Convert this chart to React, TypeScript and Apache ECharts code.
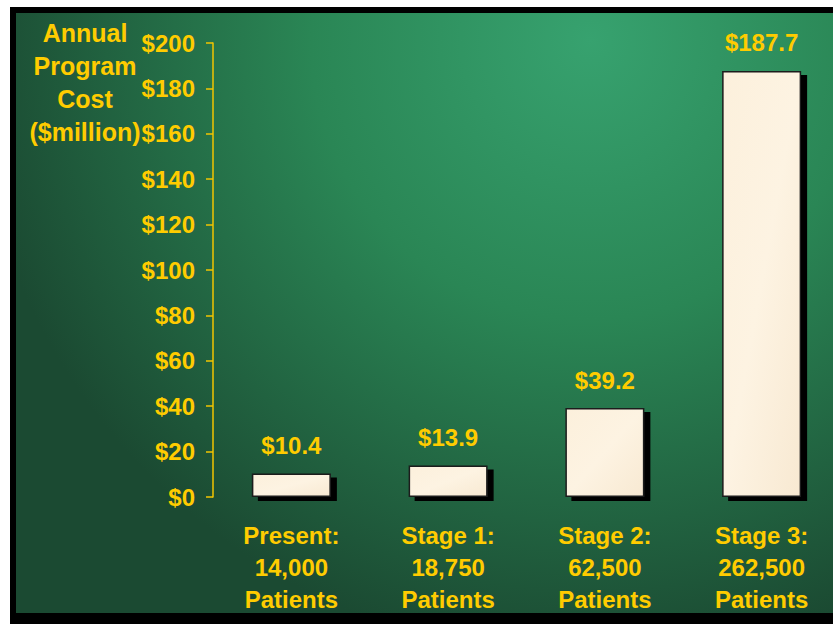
import React, { useEffect, useRef } from "react";
import * as echarts from "echarts";

const categories = [
  "Present:\n14,000\nPatients",
  "Stage 1:\n18,750\nPatients",
  "Stage 2:\n62,500\nPatients",
  "Stage 3:\n262,500\nPatients",
];
const costs = [10.4, 13.9, 39.2, 187.7];
const yTitle = "Annual\nProgram\nCost\n($million)";

const FONT = 'Arial, "Liberation Sans", sans-serif';
const YELLOW = "#FFCC00";

export default function App() {
  const ref = useRef<HTMLDivElement>(null);
  useEffect(() => {
    if (!ref.current) return;
    const chart = echarts.init(ref.current, undefined, { renderer: "svg" });
    chart.setOption({
      animation: false,
      graphic: [
        { type: "rect", z: -10, silent: true, shape: { x: 10, y: 7, width: 832, height: 620 }, style: { fill: "#000" } },
        {
          type: "rect",
          z: -9,
          silent: true,
          shape: { x: 16, y: 13, width: 826, height: 600 },
          style: {
            fill: new echarts.graphic.RadialGradient(590, 40, 620, [
              { offset: 0, color: "#37a26f" },
              { offset: 0.45, color: "#2a8655" },
              { offset: 1, color: "#1b4a32" },
            ], true),
          },
        },
        {
          type: "text",
          z: 10,
          x: 85,
          y: 16,
          style: {
            text: yTitle,
            fill: YELLOW,
            font: `bold 25px ${FONT}`,
            textAlign: "center",
            textVerticalAlign: "top",
            lineHeight: 33,
          },
        },
      ],
      grid: { left: 213, right: 0, top: 43, bottom: 127 },
      xAxis: {
        type: "category",
        data: categories,
        axisLine: { show: false },
        axisTick: { show: false },
        axisLabel: {
          color: YELLOW,
          fontFamily: FONT,
          fontWeight: "bold",
          fontSize: 24,
          lineHeight: 32,
          margin: 22,
          interval: 0,
        },
      },
      yAxis: {
        type: "value",
        min: 0,
        max: 200,
        interval: 20,
        splitLine: { show: false },
        axisLine: { show: true, lineStyle: { color: "#F2C400", width: 1.5 } },
        axisTick: { show: true, length: 7, lineStyle: { color: "#F2C400", width: 1.5 } },
        axisLabel: {
          formatter: "${value}",
          color: YELLOW,
          fontFamily: FONT,
          fontWeight: "bold",
          fontSize: 24,
          margin: 18,
        },
      },
      series: [
        {
          type: "bar",
          data: costs,
          barWidth: 79,
          itemStyle: {
            color: new echarts.graphic.LinearGradient(0, 0, 1, 1, [
              { offset: 0, color: "#FCF0DC" },
              { offset: 0.5, color: "#FDF3E2" },
              { offset: 1, color: "#F8E9D2" },
            ]),
            borderColor: "#1a1a1a",
            borderWidth: 1.5,
            shadowColor: "#000",
            shadowBlur: 0,
            shadowOffsetX: 6,
            shadowOffsetY: 4,
          },
          label: {
            show: true,
            position: "top",
            distance: 16,
            formatter: (p: any) => "$" + p.value.toFixed(1),
            color: YELLOW,
            fontFamily: FONT,
            fontWeight: "bold",
            fontSize: 24,
          },
        },
      ],
    });
    return () => chart.dispose();
  }, []);
  return (
    <div style={{ position: "fixed", left: 0, top: 0, width: 833, height: 624, background: "#fff", overflow: "hidden" }}>
      <div ref={ref} style={{ width: 840, height: 624 }} />
    </div>
  );
}
